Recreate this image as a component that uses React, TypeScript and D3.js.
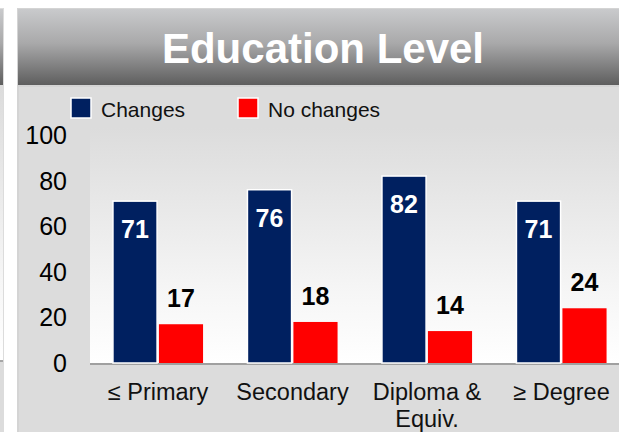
import * as d3 from "d3";
import React from "react";

const W = 619;
const H = 432;

const categories = ["≤ Primary", "Secondary", "Diploma & Equiv.", "≥ Degree"];
const categoryLines = [["≤ Primary"], ["Secondary"], ["Diploma &", "Equiv."], ["≥ Degree"]];
const series = ["Changes", "No changes"];
const changes = [71, 76, 82, 71];
const noChanges = [17, 18, 14, 24];
const yTicks = [0, 20, 40, 60, 80, 100];
const colors = ["#002060", "#ff0000"];

const FONT = "'Liberation Sans', Arial, sans-serif";

const PLOT = {left: 90, top: 128, bottom: 363};

const App = () => {
    const y = d3.scaleLinear().domain([0, 100]).range([363, 135]);
    const x = d3.scaleBand<string>()
        .domain(categories)
        .range([90.75, 628.75])
        .paddingInner(0.33)
        .paddingOuter(0.165);
    const xs = d3.scaleBand<string>()
        .domain(series)
        .range([0, x.bandwidth()])
        .paddingInner(0.04);

    const values = [changes, noChanges];

    return (
        <svg width={W} height={H} style={{position: "absolute", left: 0, top: 0, background: "#fff"}}>
            <defs>
                <linearGradient id="hdr" x1="0" y1="0" x2="0" y2="1">
                    <stop offset="0" stopColor="#c9cacc"/>
                    <stop offset="0.45" stopColor="#a9a9aa"/>
                    <stop offset="1" stopColor="#5e5e5e"/>
                </linearGradient>
                <linearGradient id="plotbg" x1="0" y1="0" x2="0" y2="1">
                    <stop offset="0" stopColor="#dcdcdc"/>
                    <stop offset="0.7" stopColor="#f6f6f6"/>
                    <stop offset="1" stopColor="#ffffff"/>
                </linearGradient>
            </defs>

            {/* partial neighbour panel on the left */}
            <rect x={-20} y={8} width={24} height={H} fill="#dcdcdc"/>
            <rect x={-20} y={9} width={23} height={76} fill="url(#hdr)"/>
            <rect x={-20} y={87} width={23} height={274} fill="url(#plotbg)"/>
            <rect x={-20} y={360} width={23} height={2} fill="#a6a6a6"/>

            {/* main panel */}
            <rect x={17} y={8} width={W} height={H} fill="#d4d4d4"/>
            <rect x={19} y={87} width={W} height={H} fill="#dcdcdc"/>
            <rect x={18} y={9} width={W} height={76} fill="url(#hdr)"/>
            <text x={323} y={63} textAnchor="middle" fill="#fff" fontFamily={FONT}
                  fontWeight="bold" fontSize={42}>Education Level</text>

            {/* plot area */}
            <rect x={PLOT.left} y={PLOT.top} width={W - PLOT.left} height={PLOT.bottom - PLOT.top}
                  fill="url(#plotbg)"/>
            <line x1={PLOT.left} x2={W} y1={364} y2={364} stroke="#a0a0a0" strokeWidth={2}/>

            {/* legend */}
            {series.map((s, i) => {
                const lx = i === 0 ? 70 : 237;
                return (
                    <g key={s}>
                        <rect x={lx + 1} y={98} width={20} height={20} fill={colors[i]} stroke="#fff"
                              strokeWidth={1.5}/>
                        <text x={lx + 31} y={117} fontFamily={FONT} fontSize={21} fill="#111">{s}</text>
                    </g>
                );
            })}

            {/* y axis */}
            {yTicks.map(t => (
                <text key={t} x={67} y={y(t)} dy="0.36em" textAnchor="end" fontFamily={FONT}
                      fontSize={25} fill="#000">{t}</text>
            ))}

            {/* bars */}
            {categories.map((c, ci) => (
                <g key={c} transform={`translate(${x(c)},0)`}>
                    {series.map((s, si) => {
                        const v = values[si][ci];
                        const bx = xs(s) as number;
                        const top = y(v);
                        return (
                            <g key={s}>
                                <rect x={bx} y={top} width={xs.bandwidth()} height={y(0) - top}
                                      fill={colors[si]} stroke={si === 0 ? "#fff" : "none"}
                                      strokeWidth={1.5}/>
                                <text x={bx + xs.bandwidth() / 2}
                                      y={si === 0 ? top + 37 : top - 17}
                                      textAnchor="middle" fontFamily={FONT} fontWeight="bold"
                                      fontSize={25} fill={si === 0 ? "#fff" : "#000"}>{v}</text>
                            </g>
                        );
                    })}
                    {categoryLines[ci].map((ln, li) => (
                        <text key={li} x={x.bandwidth() / 2} y={400 + li * 27} textAnchor="middle"
                              fontFamily={FONT} fontSize={23.5} fill="#111">{ln}</text>
                    ))}
                </g>
            ))}
        </svg>
    );
};

export default App;
